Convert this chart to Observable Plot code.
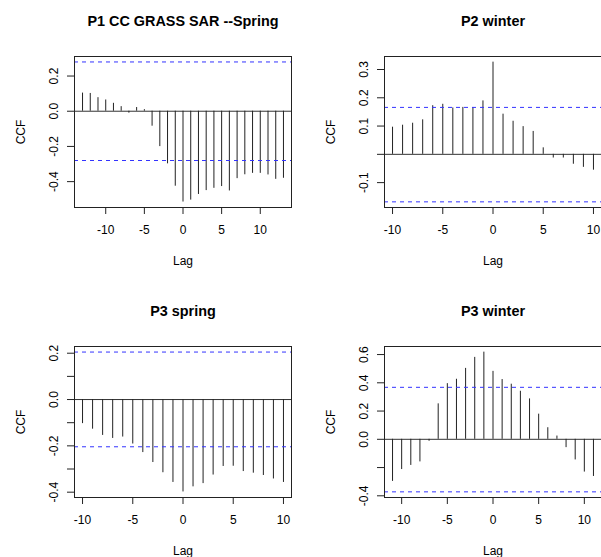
<!DOCTYPE html>
<html><head><meta charset="utf-8">
<script src="https://cdn.jsdelivr.net/npm/d3@7"></script>
<script src="https://cdn.jsdelivr.net/npm/@observablehq/plot@0.6"></script>
<style>
body{margin:0;background:#fff;}
#wrap{position:relative;width:601px;height:557px;overflow:hidden;background:#fff;}
#wrap svg{position:absolute;background:#fff;}
</style></head><body><div id="wrap"></div>
<script>
// ---- data ----
const titles = ["P1 CC GRASS SAR --Spring", "P2 winter", "P3 spring", "P3 winter"];
const xTicks = [-10, -5, 0, 5, 10];

const p1Lags = [-13,-12,-11,-10,-9,-8,-7,-6,-5,-4,-3,-2,-1,0,1,2,3,4,5,6,7,8,9,10,11,12,13];
const p1Ccf  = [0.103,0.101,0.077,0.064,0.045,0.026,-0.011,0.021,0.009,-0.085,-0.201,-0.299,-0.426,-0.516,-0.505,-0.473,-0.451,-0.438,-0.428,-0.453,-0.383,-0.361,-0.353,-0.353,-0.362,-0.387,-0.381];
const p1Ci = [0.28, -0.28];
const p1YTicks = [-0.4, -0.2, 0, 0.2];
const p1YLabels = ["-0.4", "-0.2", "0.0", "0.2"];

const p2Lags = [-10,-9,-8,-7,-6,-5,-4,-3,-2,-1,0,1,2,3,4,5,6,7,8,9,10];
const p2Ccf  = [0.096,0.103,0.110,0.122,0.172,0.177,0.164,0.166,0.165,0.189,0.326,0.142,0.117,0.098,0.081,0.023,-0.013,-0.013,-0.035,-0.046,-0.056];
const p2Ci = [0.166, -0.168];
const p2YTicks = [-0.1, 0, 0.1, 0.2, 0.3];
const p2YLabels = ["-0.1", "", "0.1", "0.2", "0.3"];

const p3Lags = [-10,-9,-8,-7,-6,-5,-4,-3,-2,-1,0,1,2,3,4,5,6,7,8,9,10];
const p3Ccf  = [-0.104,-0.128,-0.155,-0.168,-0.162,-0.192,-0.229,-0.272,-0.316,-0.358,-0.399,-0.377,-0.363,-0.326,-0.289,-0.288,-0.311,-0.318,-0.328,-0.343,-0.358];
const p3Ci = [0.205, -0.204];
const p3YTicks = [-0.4, -0.3, -0.2, -0.1, 0, 0.1, 0.2];
const p3YLabels = ["-0.4", "", "-0.2", "", "0.0", "", "0.2"];

const p4Lags = [-11,-10,-9,-8,-7,-6,-5,-4,-3,-2,-1,0,1,2,3,4,5,6,7,8,9,10,11];
const p4Ccf  = [-0.298,-0.214,-0.185,-0.160,-0.014,0.251,0.394,0.425,0.502,0.580,0.617,0.481,0.423,0.390,0.340,0.286,0.178,0.082,0.023,-0.059,-0.146,-0.232,-0.263];
const p4Ci = [0.368, -0.372];
const p4YTicks = [-0.4, -0.2, 0, 0.2, 0.4, 0.6];
const p4YLabels = ["-0.4", "", "0.0", "0.2", "0.4", "0.6"];

// ---- layout ----
const FONT = "'Liberation Sans', Arial, Helvetica, sans-serif";
const panels = [
  {title: titles[0], lags: p1Lags, ccf: p1Ccf, ci: p1Ci, yt: p1YTicks, yl: p1YLabels,
   xd: [-14.04, 14.04], yd: [-0.547, 0.311], left: 0, top: 0, width: 300, height: 280,
   m: {l: 74, r: 9, t: 56, b: 73}},
  {title: titles[1], lags: p2Lags, ccf: p2Ccf, ci: p2Ci, yt: p2YTicks, yl: p2YLabels,
   xd: [-10.8, 10.8], yd: [-0.188, 0.346], left: 300, top: 0, width: 301, height: 280,
   m: {l: 84, r: 0, t: 56, b: 73}},
  {title: titles[2], lags: p3Lags, ccf: p3Ccf, ci: p3Ci, yt: p3YTicks, yl: p3YLabels,
   xd: [-10.8, 10.8], yd: [-0.423, 0.229], left: 0, top: 290, width: 300, height: 267,
   m: {l: 74, r: 9, t: 56, b: 60}},
  {title: titles[3], lags: p4Lags, ccf: p4Ccf, ci: p4Ci, yt: p4YTicks, yl: p4YLabels,
   xd: [-11.88, 11.88], yd: [-0.412, 0.657], left: 300, top: 290, width: 301, height: 267,
   m: {l: 84, r: 0, t: 56, b: 60}}
];

const wrap = document.getElementById("wrap");
for (const p of panels) {
  const rows = p.lags.map((lag, i) => ({lag, ccf: p.ccf[i]}));
  const chart = Plot.plot({
    width: p.width, height: p.height,
    marginLeft: p.m.l, marginRight: p.m.r, marginTop: p.m.t, marginBottom: p.m.b,
    style: {fontFamily: FONT, fontSize: "12px", background: "#fff", color: "#000"},
    x: {domain: p.xd},
    y: {domain: p.yd},
    marks: [
      Plot.ruleY([0], {stroke: "#333", strokeWidth: 1}),
      Plot.ruleX(rows, {x: "lag", y1: 0, y2: "ccf", stroke: "#222", strokeWidth: 1}),
      Plot.ruleY(p.ci, {stroke: "#3333ff", strokeWidth: 1, strokeDasharray: "4,4"}),
      Plot.frame({stroke: "#222", strokeWidth: 1}),
      Plot.axisX({ticks: xTicks, tickSize: 7, tickPadding: 11, fontSize: 12, stroke: "#222",
                  tickFormat: d => String(d), label: null}),
      Plot.axisY({ticks: p.yt, tickSize: 7, tickPadding: 10, tickRotate: -90, fontSize: 12, stroke: "#222",
                  tickFormat: d => p.yl[p.yt.indexOf(d)], label: null}),
      Plot.text([p.title], {frameAnchor: "top", dy: -35, lineAnchor: "middle", textAnchor: "middle",
                            fontSize: 14.4, fontWeight: "bold", fill: "#000"}),
      Plot.text(["CCF"], {frameAnchor: "left", dx: -53, rotate: -90, lineAnchor: "middle", textAnchor: "middle",
                          fontSize: 12, fill: "#000"}),
      Plot.text(["Lag"], {frameAnchor: "bottom", dy: 54, lineAnchor: "middle", textAnchor: "middle",
                          fontSize: 12, fill: "#000"})
    ]
  });
  chart.style.left = p.left + "px";
  chart.style.top = p.top + "px";
  wrap.appendChild(chart);
}
</script></body></html>
